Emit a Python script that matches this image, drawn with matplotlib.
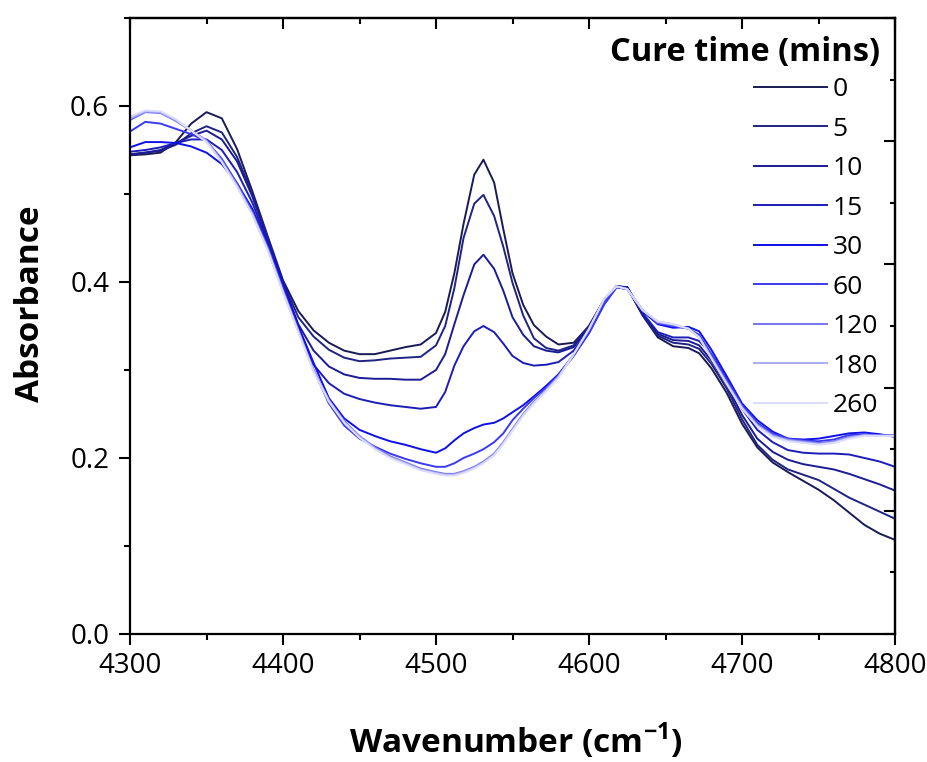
import matplotlib

matplotlib.use("Agg")
import matplotlib.pyplot as plt
from matplotlib.ticker import MultipleLocator, NullFormatter

plt.rcParams["font.family"] = ["Open Sans", "DejaVu Sans"]
plt.rcParams["mathtext.fontset"] = "custom"
plt.rcParams["mathtext.rm"] = "Open Sans"
plt.rcParams["mathtext.bf"] = "Open Sans:bold"

# wavenumber grid (cm-1)
wavenumber = [4300, 4310, 4320, 4330, 4340, 4350, 4360, 4370, 4380, 4390,
              4400, 4410, 4420, 4430, 4440, 4450, 4460, 4470, 4480, 4490,
              4500, 4506, 4512, 4518, 4525, 4531, 4538, 4544, 4550, 4557,
              4564, 4572, 4580, 4590, 4600, 4610, 4618, 4625, 4635, 4645,
              4655, 4665, 4672, 4680, 4690, 4700, 4710, 4720, 4730, 4740,
              4750, 4760, 4770, 4780, 4790, 4800]

cure_times = ["0", "5", "10", "15", "30", "60", "120", "180", "260"]

abs_0 = [0.544, 0.545, 0.547, 0.559, 0.580, 0.593, 0.586, 0.551, 0.503, 0.452,
         0.402, 0.367, 0.345, 0.331, 0.322, 0.318, 0.318, 0.322, 0.326, 0.329,
         0.342, 0.366, 0.410, 0.466, 0.522, 0.539, 0.513, 0.460, 0.410, 0.374,
         0.351, 0.338, 0.329, 0.331, 0.350, 0.380, 0.395, 0.394, 0.362, 0.337,
         0.327, 0.325, 0.319, 0.302, 0.274, 0.239, 0.212, 0.195, 0.184, 0.174,
         0.164, 0.152, 0.138, 0.124, 0.114, 0.107]
abs_5 = [0.545, 0.547, 0.549, 0.556, 0.569, 0.577, 0.570, 0.542, 0.500, 0.450,
         0.400, 0.360, 0.338, 0.323, 0.314, 0.310, 0.311, 0.313, 0.314, 0.315,
         0.328, 0.350, 0.393, 0.450, 0.489, 0.499, 0.475, 0.440, 0.399, 0.362,
         0.336, 0.325, 0.322, 0.328, 0.350, 0.380, 0.395, 0.394, 0.363, 0.339,
         0.331, 0.329, 0.324, 0.307, 0.279, 0.244, 0.215, 0.198, 0.187, 0.181,
         0.175, 0.165, 0.155, 0.147, 0.139, 0.131]
abs_10 = [0.545, 0.547, 0.550, 0.558, 0.566, 0.572, 0.562, 0.537, 0.497, 0.448,
          0.398, 0.352, 0.322, 0.304, 0.295, 0.291, 0.290, 0.290, 0.289, 0.289,
          0.300, 0.318, 0.352, 0.385, 0.420, 0.431, 0.415, 0.390, 0.360, 0.340,
          0.327, 0.322, 0.320, 0.326, 0.349, 0.380, 0.395, 0.394, 0.364, 0.341,
          0.334, 0.333, 0.328, 0.311, 0.283, 0.249, 0.222, 0.207, 0.198, 0.193,
          0.190, 0.187, 0.182, 0.176, 0.170, 0.163]
abs_15 = [0.548, 0.550, 0.553, 0.558, 0.562, 0.562, 0.550, 0.525, 0.490, 0.445,
          0.395, 0.345, 0.306, 0.285, 0.273, 0.267, 0.263, 0.260, 0.258, 0.256,
          0.258, 0.275, 0.305, 0.327, 0.344, 0.350, 0.343, 0.330, 0.316, 0.308,
          0.305, 0.306, 0.309, 0.322, 0.347, 0.379, 0.395, 0.394, 0.365, 0.343,
          0.337, 0.337, 0.333, 0.318, 0.290, 0.256, 0.232, 0.218, 0.209, 0.206,
          0.205, 0.205, 0.204, 0.200, 0.196, 0.190]
abs_30 = [0.553, 0.559, 0.559, 0.558, 0.554, 0.547, 0.534, 0.512, 0.483, 0.443,
          0.398, 0.350, 0.308, 0.268, 0.245, 0.232, 0.225, 0.219, 0.215, 0.210,
          0.206, 0.211, 0.220, 0.228, 0.234, 0.238, 0.240, 0.245, 0.252, 0.260,
          0.270, 0.282, 0.295, 0.317, 0.342, 0.375, 0.394, 0.392, 0.367, 0.352,
          0.348, 0.349, 0.344, 0.323, 0.293, 0.262, 0.243, 0.230, 0.222, 0.221,
          0.222, 0.225, 0.228, 0.229, 0.227, 0.224]
abs_60 = [0.571, 0.582, 0.580, 0.574, 0.568, 0.560, 0.540, 0.512, 0.480, 0.440,
          0.392, 0.345, 0.300, 0.262, 0.237, 0.222, 0.213, 0.205, 0.199, 0.194,
          0.190, 0.190, 0.194, 0.200, 0.205, 0.210, 0.218, 0.228, 0.243, 0.256,
          0.268, 0.280, 0.294, 0.316, 0.342, 0.375, 0.394, 0.392, 0.368, 0.353,
          0.350, 0.347, 0.340, 0.318, 0.289, 0.260, 0.240, 0.228, 0.222, 0.220,
          0.219, 0.221, 0.226, 0.227, 0.226, 0.225]
abs_120 = [0.584, 0.593, 0.592, 0.583, 0.572, 0.561, 0.538, 0.510, 0.478, 0.438,
           0.390, 0.345, 0.300, 0.266, 0.242, 0.225, 0.212, 0.202, 0.195, 0.188,
           0.184, 0.182, 0.182, 0.185, 0.190, 0.196, 0.205, 0.218, 0.233, 0.250,
           0.264, 0.278, 0.293, 0.318, 0.346, 0.380, 0.395, 0.392, 0.368, 0.354,
           0.351, 0.347, 0.338, 0.315, 0.286, 0.258, 0.238, 0.226, 0.221, 0.219,
           0.217, 0.219, 0.224, 0.226, 0.226, 0.226]
abs_180 = [0.586, 0.594, 0.593, 0.584, 0.572, 0.560, 0.537, 0.509, 0.477, 0.437,
           0.389, 0.344, 0.299, 0.265, 0.241, 0.224, 0.211, 0.201, 0.194, 0.187,
           0.183, 0.181, 0.181, 0.184, 0.189, 0.195, 0.204, 0.217, 0.232, 0.249,
           0.263, 0.277, 0.292, 0.318, 0.346, 0.381, 0.395, 0.392, 0.368, 0.355,
           0.352, 0.347, 0.337, 0.314, 0.285, 0.257, 0.237, 0.225, 0.220, 0.218,
           0.216, 0.218, 0.223, 0.226, 0.225, 0.225]
abs_260 = [0.588, 0.595, 0.594, 0.585, 0.572, 0.559, 0.536, 0.508, 0.476, 0.436,
           0.388, 0.343, 0.298, 0.264, 0.240, 0.223, 0.210, 0.200, 0.193, 0.186,
           0.182, 0.180, 0.180, 0.183, 0.188, 0.194, 0.203, 0.216, 0.231, 0.248,
           0.262, 0.276, 0.291, 0.318, 0.347, 0.381, 0.395, 0.392, 0.368, 0.355,
           0.352, 0.347, 0.337, 0.313, 0.284, 0.256, 0.236, 0.224, 0.219, 0.217,
           0.215, 0.217, 0.222, 0.225, 0.225, 0.225]

spectra = [abs_0, abs_5, abs_10, abs_15, abs_30, abs_60, abs_120, abs_180, abs_260]
colors = ["#1a1a55", "#1e2384", "#1b1b94", "#1c1cb8", "#0f0fe8",
          "#3a3af0", "#7474f2", "#aaaaf8", "#dcdcfd"]

fig = plt.figure(figsize=(9.28, 7.62), dpi=100)
ax = fig.add_axes([130 / 928, 128 / 762, 765 / 928, 616 / 762])

for label, values, color in zip(cure_times, spectra, colors):
    ax.plot(wavenumber, values, color=color, linewidth=1.4, label=label)

ax.set_xlim(4300, 4800)
ax.set_ylim(0, 0.7)
ax.xaxis.set_major_locator(MultipleLocator(100))
ax.xaxis.set_minor_locator(MultipleLocator(50))
ax.yaxis.set_major_locator(MultipleLocator(0.2))
ax.yaxis.set_minor_locator(MultipleLocator(0.1))
ax.yaxis.set_major_formatter(matplotlib.ticker.FormatStrFormatter("%.1f"))
ax.tick_params(which="major", direction="out", length=8, width=1.5, labelsize=20, pad=5)
ax.tick_params(which="minor", direction="out", length=4.5, width=1.5)
ax.tick_params(axis="y", which="major", pad=7)
for spine in ax.spines.values():
    spine.set_linewidth(1.6)

# inward ticks on the top and right frames
top = ax.secondary_xaxis("top")
top.xaxis.set_major_locator(MultipleLocator(100))
top.xaxis.set_minor_locator(MultipleLocator(50))
top.xaxis.set_major_formatter(NullFormatter())
top.tick_params(which="major", direction="in", length=8, width=1.5)
top.tick_params(which="minor", direction="in", length=4, width=1.5)
top.spines["top"].set_linewidth(1.6)

right = ax.secondary_yaxis("right", functions=(lambda y: y / 0.7, lambda y: y * 0.7))
right.yaxis.set_major_locator(MultipleLocator(0.2))
right.yaxis.set_minor_locator(MultipleLocator(0.1))
right.yaxis.set_major_formatter(NullFormatter())
right.tick_params(which="major", direction="in", length=8, width=1.5)
right.tick_params(which="minor", direction="in", length=3.5, width=1.5)
right.spines["right"].set_linewidth(1.6)

ax.set_xlabel(r"Wavenumber (cm$^{\mathbf{-1}}$)", fontsize=24, fontweight="bold")
ax.set_ylabel("Absorbance", fontsize=24, fontweight="bold")
ax.xaxis.set_label_coords(0.504, -0.141)
ax.yaxis.set_label_coords(-0.108, 0.536)

# legend title drawn separately so its gap to the entries can be set
fig.text(880 / 928, 1 - 52 / 762, "Cure time (mins)", fontsize=23.5, fontweight="bold",
         ha="right", va="center")
leg = ax.legend(loc="upper right",
                bbox_to_anchor=(878 / 928, 1 - 77 / 762), bbox_transform=fig.transFigure,
                frameon=False, fontsize=19, handlelength=2.75, handletextpad=0.23,
                labelspacing=0.55, borderpad=0.0, borderaxespad=0.0)

fig.savefig("out.png", dpi=100)
plt.close(fig)
